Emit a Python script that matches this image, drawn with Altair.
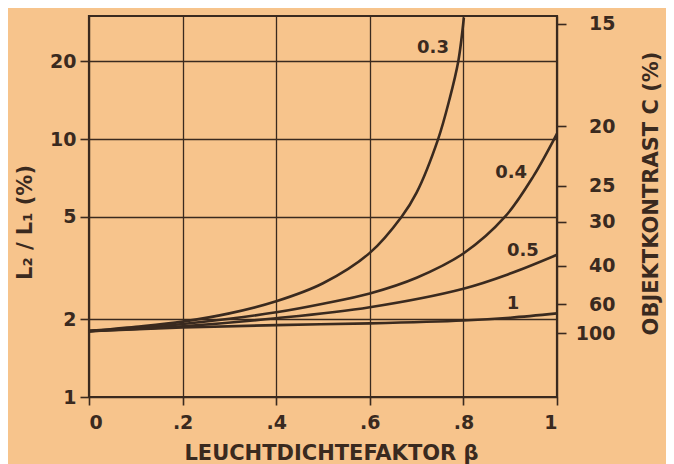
import altair as alt
import pandas as pd

# ---- data ----
beta_c03 = [0.0, 0.1, 0.2, 0.3, 0.4, 0.5, 0.6, 0.668, 0.7, 0.746, 0.77, 0.789, 0.801]
ratio_c03 = [1.80, 1.87, 1.96, 2.11, 2.35, 2.76, 3.62, 5.0, 6.2, 10.0, 14.2, 20.0, 29.6]

beta_c04 = [0.0, 0.2, 0.3, 0.4, 0.5, 0.6, 0.7, 0.8, 0.889, 0.95, 1.0]
ratio_c04 = [1.80, 1.92, 2.01, 2.13, 2.30, 2.52, 2.90, 3.60, 5.0, 7.2, 10.5]

beta_c05 = [0.0, 0.2, 0.4, 0.6, 0.8, 0.9, 1.0]
ratio_c05 = [1.80, 1.88, 2.02, 2.23, 2.63, 3.01, 3.56]

beta_c1 = [0.0, 0.2, 0.4, 0.6, 0.8, 0.9, 1.0]
ratio_c1 = [1.80, 1.86, 1.90, 1.93, 1.98, 2.03, 2.11]

curve_names = ["0.3", "0.4", "0.5", "1"]
label_beta = [0.735, 0.902, 0.927, 0.906]
label_ratio = [22.5, 7.39, 3.69, 2.29]

x_ticks = [0, 0.2, 0.4, 0.6, 0.8, 1]
x_tick_labels = ["0", ".2", ".4", ".6", ".8", "1"]
left_ticks = [1, 2, 5, 10, 20]
right_tick_vals = [28.0, 11.2, 6.59, 4.78, 3.23, 2.29, 1.77]
right_tick_labels = ["15", "20", "25", "30", "40", "60", "100"]

BG = "#F7C48C"
INK = "#3a2a1f"
FONT = "DejaVu Sans"

rows = []
for name, bs, rs in zip(curve_names,
                        [beta_c03, beta_c04, beta_c05, beta_c1],
                        [ratio_c03, ratio_c04, ratio_c05, ratio_c1]):
    for b, r in zip(bs, rs):
        rows.append({"curve": name, "beta": b, "ratio": r})
df = pd.DataFrame(rows)

lab_df = pd.DataFrame({"beta": label_beta, "ratio": label_ratio, "text": curve_names})
right_df = pd.DataFrame({"ratio": right_tick_vals, "label": right_tick_labels})


def map_expr(vals, labels):
    return "".join(f"datum.value == {v} ? '{l}' : " for v, l in zip(vals, labels)) + "''"


x_scale = alt.Scale(domain=[0, 1], nice=False, zero=False)
y_scale = alt.Scale(type="log", domain=[1, 30], nice=False)

common_axis = dict(
    labelFont=FONT, labelFontSize=19, labelFontWeight="bold", labelColor=INK,
    titleFont=FONT, titleFontSize=21, titleFontWeight="bold", titleColor=INK,
    tickColor=INK, tickWidth=1.6, domain=False,
)

lines = alt.Chart(df).mark_line(color=INK, strokeWidth=2.6, interpolate="catmull-rom").encode(
    x=alt.X("beta:Q", scale=x_scale,
            axis=alt.Axis(values=x_ticks, labelExpr=map_expr(x_ticks, x_tick_labels),
                          title="LEUCHTDICHTEFAKTOR  β", grid=True, gridColor=INK,
                          gridWidth=1.3, gridOpacity=1, tickSize=8, labelPadding=8,
                          titleX=242, titleY=56, titleBaseline="middle", titleAlign="center",
                          **common_axis)),
    y=alt.Y("ratio:Q", scale=y_scale,
            axis=alt.Axis(orient="left", values=left_ticks, format="~g",
                          title="L₂ / L₁  (%)", grid=True, gridColor=INK,
                          gridWidth=1.3, gridOpacity=1, tickSize=9, labelPadding=4,
                          titleAngle=270, titleX=-64, titleY=206, titleBaseline="middle",
                          titleAlign="center", **common_axis)),
    detail="curve:N",
)

labels = alt.Chart(lab_df).mark_text(font=FONT, fontSize=18, fontWeight="bold", color=INK).encode(
    x=alt.X("beta:Q", scale=x_scale),
    y=alt.Y("ratio:Q", scale=y_scale, axis=None),
    text="text:N",
)

right = alt.Chart(right_df).mark_point(opacity=0).encode(
    y=alt.Y("ratio:Q", scale=y_scale,
            axis=alt.Axis(orient="right", values=right_tick_vals,
                          labelExpr=map_expr(right_tick_vals, right_tick_labels),
                          title="OBJEKTKONTRAST  C (%)", grid=False, tickSize=9,
                          labelAlign="right", labelPadding=49,
                          titleAngle=270, titleX=94, titleY=177, titleBaseline="middle",
                          titleAlign="center", **common_axis)),
)

chart = alt.layer(lines, labels, right).resolve_axis(y="independent").properties(
    width=468, height=381,
    padding={"left": 81, "top": 8, "right": 109, "bottom": 70},
    autosize=alt.AutoSizeParams(type="none"),
    background=BG,
).configure_view(stroke=INK, strokeWidth=2.2)

chart.save("out.html", embed_options={"renderer": "svg", "actions": False})
